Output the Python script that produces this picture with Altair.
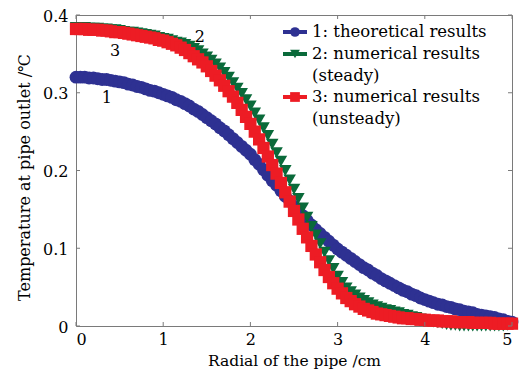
import altair as alt
import pandas as pd

# ---------------- data ----------------
radial = [0.00, 0.05, 0.10, 0.15, 0.20, 0.25, 0.30, 0.35, 0.40, 0.45,
          0.50, 0.55, 0.60, 0.65, 0.70, 0.75, 0.80, 0.85, 0.90, 0.95,
          1.00, 1.05, 1.10, 1.15, 1.20, 1.25, 1.30, 1.35, 1.40, 1.45,
          1.50, 1.55, 1.60, 1.65, 1.70, 1.75, 1.80, 1.85, 1.90, 1.95,
          2.00, 2.05, 2.10, 2.15, 2.20, 2.25, 2.30, 2.35, 2.40, 2.45,
          2.50, 2.55, 2.60, 2.65, 2.70, 2.75, 2.80, 2.85, 2.90, 2.95,
          3.00, 3.05, 3.10, 3.15, 3.20, 3.25, 3.30, 3.35, 3.40, 3.45,
          3.50, 3.55, 3.60, 3.65, 3.70, 3.75, 3.80, 3.85, 3.90, 3.95,
          4.00, 4.05, 4.10, 4.15, 4.20, 4.25, 4.30, 4.35, 4.40, 4.45,
          4.50, 4.55, 4.60, 4.65, 4.70, 4.75, 4.80, 4.85, 4.90, 4.95,
          5.00]

theoretical = [0.320, 0.320, 0.320, 0.319, 0.319, 0.318, 0.317, 0.317, 0.316, 0.315,
               0.314, 0.313, 0.311, 0.310, 0.308, 0.307, 0.305, 0.303, 0.302, 0.300,
               0.298, 0.296, 0.294, 0.291, 0.289, 0.286, 0.283, 0.279, 0.276, 0.272,
               0.268, 0.264, 0.260, 0.255, 0.251, 0.246, 0.241, 0.236, 0.231, 0.226,
               0.221, 0.214, 0.208, 0.201, 0.194, 0.187, 0.181, 0.174, 0.167, 0.161,
               0.154, 0.148, 0.142, 0.136, 0.130, 0.124, 0.119, 0.114, 0.109, 0.104,
               0.099, 0.095, 0.091, 0.087, 0.083, 0.079, 0.075, 0.072, 0.068, 0.065,
               0.061, 0.058, 0.055, 0.052, 0.049, 0.046, 0.044, 0.041, 0.039, 0.036,
               0.034, 0.032, 0.030, 0.028, 0.027, 0.025, 0.024, 0.022, 0.021, 0.019,
               0.018, 0.017, 0.015, 0.014, 0.013, 0.012, 0.011, 0.009, 0.008, 0.006,
               0.005]

steady = [0.384, 0.384, 0.384, 0.383, 0.383, 0.383, 0.382, 0.382, 0.381, 0.381,
          0.380, 0.379, 0.378, 0.378, 0.377, 0.376, 0.375, 0.374, 0.373, 0.371,
          0.370, 0.369, 0.367, 0.365, 0.364, 0.362, 0.360, 0.357, 0.354, 0.350,
          0.346, 0.342, 0.337, 0.332, 0.326, 0.320, 0.313, 0.306, 0.299, 0.291,
          0.283, 0.274, 0.265, 0.255, 0.245, 0.234, 0.223, 0.212, 0.200, 0.188,
          0.176, 0.164, 0.152, 0.140, 0.128, 0.117, 0.106, 0.095, 0.084, 0.074,
          0.064, 0.056, 0.049, 0.044, 0.040, 0.036, 0.033, 0.030, 0.027, 0.025,
          0.023, 0.021, 0.020, 0.018, 0.017, 0.015, 0.014, 0.012, 0.011, 0.009,
          0.008, 0.007, 0.005, 0.004, 0.003, 0.002, 0.001, 0.001, 0.000, 0.000,
          0.000, 0.000, 0.000, 0.000, 0.000, 0.000, 0.000, 0.000, 0.000, 0.001,
          0.002]

unsteady = [0.382, 0.382, 0.382, 0.381, 0.381, 0.381, 0.380, 0.380, 0.379, 0.378,
            0.378, 0.377, 0.376, 0.375, 0.374, 0.373, 0.372, 0.371, 0.370, 0.368,
            0.367, 0.365, 0.363, 0.361, 0.358, 0.355, 0.351, 0.347, 0.343, 0.339,
            0.334, 0.328, 0.322, 0.316, 0.309, 0.302, 0.295, 0.287, 0.278, 0.269,
            0.260, 0.250, 0.240, 0.229, 0.218, 0.207, 0.196, 0.184, 0.172, 0.160,
            0.148, 0.137, 0.125, 0.114, 0.103, 0.092, 0.082, 0.072, 0.063, 0.055,
            0.048, 0.042, 0.036, 0.032, 0.028, 0.025, 0.022, 0.020, 0.018, 0.016,
            0.015, 0.014, 0.013, 0.012, 0.011, 0.010, 0.010, 0.009, 0.009, 0.008,
            0.008, 0.007, 0.007, 0.007, 0.006, 0.006, 0.006, 0.005, 0.005, 0.005,
            0.005, 0.004, 0.004, 0.004, 0.004, 0.004, 0.003, 0.003, 0.003, 0.003,
            0.003]

series_names = ["1: theoretical results",
                "2: numerical results (steady)",
                "3: numerical results (unsteady)"]
legend_lines = [["1: theoretical results"],
                ["2: numerical results", "(steady)"],
                ["3: numerical results", "(unsteady)"]]
curve_tags = ["1", "2", "3"]
x_ticks = [0, 1, 2, 3, 4, 5]
y_ticks = [0, 0.1, 0.2, 0.3, 0.4]

# ---------------- styling ----------------
W, H = 436, 311
FONT = "DejaVu Serif"
FS = 16
FRAME = "#7a7a7a"
colors = ["#2e3192", "#0a6a3a", "#ed1c24"]
shapes = ["circle", "triangle-down", "square"]
sizes = [165, 150, 140]

rows = []
for name, vals in zip(series_names, [theoretical, steady, unsteady]):
    for r, t in zip(radial, vals):
        rows.append({"r": r, "T": t, "series": name})
df = pd.DataFrame(rows)

xs = alt.Scale(domain=[0, 5], nice=False, zero=False)
ys = alt.Scale(domain=[0, 0.4], nice=False, zero=False)

x_axis = alt.Axis(values=x_ticks, format="d", title="Radial of the pipe /cm",
                  ticks=False, domain=False, grid=False, labelPadding=5,
                  titleY=39, titleBaseline="alphabetic", titleFontSize=15.5)
y_axis = alt.Axis(values=y_ticks, format="~g", title="Temperature at pipe outlet /℃",
                  ticks=False, domain=False, grid=False, labelPadding=8, labelOffset=1,
                  titleX=-44, titleY=162)

points = alt.Chart(df).mark_point(filled=True, opacity=1, strokeWidth=0).encode(
    x=alt.X("r:Q", scale=xs, axis=x_axis),
    y=alt.Y("T:Q", scale=ys, axis=y_axis),
    color=alt.Color("series:N", scale=alt.Scale(domain=series_names, range=colors), legend=None),
    shape=alt.Shape("series:N", scale=alt.Scale(domain=series_names, range=shapes), legend=None),
    size=alt.Size("series:O", scale=alt.Scale(domain=series_names, range=sizes), legend=None),
)

xt = pd.DataFrame({"r": x_ticks})
yt = pd.DataFrame({"T": y_ticks})
tick_layers = [
    alt.Chart(xt).mark_rule(color=FRAME, strokeWidth=1).encode(
        x=alt.X("r:Q", scale=xs, axis=x_axis), y=alt.value(H), y2=alt.value(H - 4)),
    alt.Chart(xt).mark_rule(color=FRAME, strokeWidth=1).encode(
        x=alt.X("r:Q", scale=xs, axis=x_axis), y=alt.value(0), y2=alt.value(4)),
    alt.Chart(yt).mark_rule(color=FRAME, strokeWidth=1).encode(
        y=alt.Y("T:Q", scale=ys, axis=y_axis), x=alt.value(0), x2=alt.value(4)),
    alt.Chart(yt).mark_rule(color=FRAME, strokeWidth=1).encode(
        y=alt.Y("T:Q", scale=ys, axis=y_axis), x=alt.value(W), x2=alt.value(W - 4)),
]

one = alt.Data(values=[{}])
tag_pos = [(0.355, 0.293), (1.42, 0.372), (0.447, 0.354)]
tag_layers = []
for tag, (tx, ty) in zip(curve_tags, tag_pos):
    tag_layers.append(
        alt.Chart(one).mark_text(font=FONT, fontSize=FS, color="black",
                                 align="center", baseline="middle").encode(
            x=alt.datum(tx), y=alt.datum(ty), text=alt.value(tag)))

# legend (top-right, inside the plot)
leg_layers = []
row_y = [17, 39, 82]
line_gap = 21.7
for lines, c, shp, ry in zip(legend_lines, colors, shapes, row_y):
    leg_layers.append(alt.Chart(one).mark_rule(color=c, strokeWidth=4).encode(
        x=alt.value(207), x2=alt.value(231), y=alt.value(ry)))
    leg_layers.append(alt.Chart(one).mark_point(filled=True, opacity=1, color=c,
                                                shape=shp, size=95, strokeWidth=0).encode(
        x=alt.value(219), y=alt.value(ry)))
    for k, txt in enumerate(lines):
        leg_layers.append(alt.Chart(one).mark_text(font=FONT, fontSize=16.5, color="black",
                                                   align="left", baseline="middle").encode(
            x=alt.value(236), y=alt.value(ry + k * line_gap), text=alt.value(txt)))

chart = alt.layer(points, *tick_layers, *tag_layers, *leg_layers).properties(
    width=W, height=H,
    autosize=alt.AutoSizeParams(type="none"),
    padding={"left": 68, "top": 7, "right": 12, "bottom": 43},
    background="white",
).configure_view(stroke=FRAME, strokeWidth=1).configure_axis(
    labelFont=FONT, labelFontSize=FS, labelColor="black",
    titleFont=FONT, titleFontSize=FS, titleFontWeight="normal", titleColor="black",
)

chart.save("out.html", embed_options={"renderer": "svg", "actions": False})
